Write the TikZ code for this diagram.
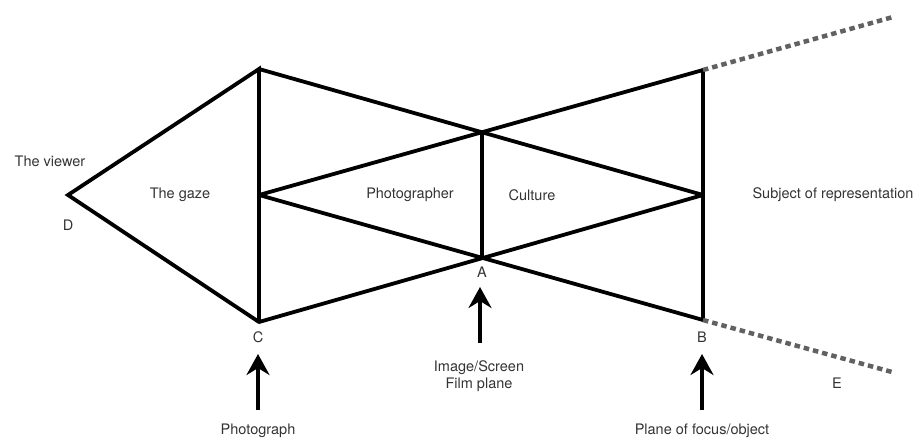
\documentclass[tikz,border=0pt]{standalone}
\usepackage{fontspec}
\setmainfont{TeX Gyre Heros}
\usetikzlibrary{arrows.meta}
\begin{document}
\begin{tikzpicture}[x=1pt,y=-1pt,
  edge/.style={line width=3.8pt,line join=miter,line cap=round},
  dashline/.style={line width=4.5pt,draw=black!62,dash pattern=on 5.5pt off 4pt},
  upar/.style={line width=3.8pt,-{Stealth[length=21pt,width=23pt,inset=7pt]}},
  lab/.style={font=\fontsize{14.5}{17}\selectfont,text=black!80,inner sep=0pt,align=center}]
\useasboundingbox (0,0) rectangle (915,439);
% vertices
\coordinate (D) at (68,195);
\coordinate (P1) at (259,69);
\coordinate (L) at (259,195);
\coordinate (C) at (259,322);
\coordinate (T) at (482,133);
\coordinate (A) at (482,258);
\coordinate (TR) at (703,70);
\coordinate (R) at (703,195);
\coordinate (B) at (703,320);
\coordinate (Ftop) at (893,17);
\coordinate (Fbot) at (892,372);
% solid lines
\draw[edge] (C) -- (D) -- (P1) -- (C);
\draw[edge] (P1) -- (R);
\draw[edge] (L) -- (TR);
\draw[edge] (L) -- (B);
\draw[edge] (C) -- (R);
\draw[edge] (T) -- (A);
\draw[edge] (TR) -- (B);
% dashed lines
\draw[dashline] (TR) -- (Ftop);
\draw[dashline] (B) -- (Fbot);
% arrows
\coordinate (c0) at (258,410); \coordinate (c1) at (258,354);
\coordinate (a0) at (480,343); \coordinate (a1) at (480,287);
\coordinate (b0) at (702,410); \coordinate (b1) at (702,354);
\draw[upar] (c0) -- (c1);
\draw[upar] (a0) -- (a1);
\draw[upar] (b0) -- (b1);
% labels
\node[lab] (viewer) at (50,161) {The viewer};
\node[lab] (dl) at (68,225) {D};
\node[lab] (gaze) at (180,195) {The gaze};
\node[lab] (phg) at (410,195) {Photographer};
\node[lab] (cult) at (532,195) {Culture};
\node[lab] (subj) at (833,195) {Subject of representation};
\node[lab] (al) at (482,272) {A};
\node[lab] (cl) at (258,337) {C};
\node[lab] (bl) at (702,337) {B};
\node[lab] (el) at (837,383) {E};
\node[lab] (photo) at (258,431) {Photograph};
\node[lab] (img) at (479,376) {Image/Screen\\Film plane};
\node[lab] (plane) at (702,431) {Plane of focus/object};
\end{tikzpicture}
\end{document}
